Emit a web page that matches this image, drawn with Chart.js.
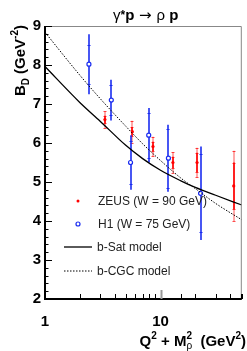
<!DOCTYPE html>
<html>
<head>
<meta charset="utf-8">
<script src="https://cdn.jsdelivr.net/npm/chart.js@4"></script>
<style>
  html, body { margin: 0; padding: 0; background: #fff; }
  #wrap { width: 247px; height: 351px; }
</style>
</head>
<body>
<div id="wrap"><canvas id="bdChart" width="247" height="351"></canvas></div>
<script>
// ZEUS (W = 90 GeV)
const zeusQ2 = [3.3, 5.7, 8.6, 12.8, 20.7, 43];
const zeusB = [6.6, 6.29, 5.91, 5.5, 5.5, 4.9];
const zeusStat = [0.1, 0.12, 0.12, 0.15, 0.25, 0.6];
const zeusTot = [0.21, 0.28, 0.25, 0.26, 0.38, 0.9];

// H1 (W = 75 GeV)
const h1Q2 = [2.4, 3.75, 5.5, 7.9, 11.7, 22.2];
const h1B = [8.02, 7.1, 5.5, 6.2, 5.61, 4.71];
const h1Stat = [0.5, 0.38, 0.55, 0.58, 0.76, 1.0];
const h1Tot = [0.77, 0.52, 0.7, 0.7, 0.86, 1.2];

// model curves
const modelQ2 = [1, 2, 3, 5, 7, 10, 15, 20, 30, 50.5];
const bSat = [7.96, 7.04, 6.56, 5.94, 5.6, 5.3, 5.03, 4.86, 4.66, 4.41];
const bCgc = [8.84, 7.74, 7.14, 6.43, 5.98, 5.55, 5.1, 4.83, 4.45, 4.03];

const legendLabels = ["ZEUS (W = 90 GeV)", "H1 (W = 75 GeV)", "b-Sat model", "b-CGC model"];
const yTicks = [2, 3, 4, 5, 6, 7, 8, 9];
const xLabelTicks = [1, 10];

const toPts = (xs, ys) => xs.map((x, i) => ({ x: x, y: ys[i] }));

const errorBars = {
    id: "errorBars",
    beforeDatasetsDraw(chart) {
        const ctx = chart.ctx;
        const xs = chart.scales.x, ys = chart.scales.y;
        ctx.save();
        // ZEUS: total in lighter red, stat in red
        zeusQ2.forEach((q, i) => {
            const px = Math.round(xs.getPixelForValue(q));
            const b = zeusB[i];
            ctx.lineWidth = 1.6;
            ctx.strokeStyle = "rgba(255,40,40,0.5)";
            ctx.beginPath();
            ctx.moveTo(px, ys.getPixelForValue(b + zeusTot[i]));
            ctx.lineTo(px, ys.getPixelForValue(b - zeusTot[i]));
            ctx.stroke();
            ctx.strokeStyle = "#f00";
            ctx.beginPath();
            ctx.moveTo(px, ys.getPixelForValue(b + zeusStat[i]));
            ctx.lineTo(px, ys.getPixelForValue(b - zeusStat[i]));
            ctx.stroke();
            ctx.lineWidth = 1;
            ctx.strokeStyle = "rgba(255,0,0,0.7)";
            [b + zeusStat[i], b - zeusStat[i], b + zeusTot[i], b - zeusTot[i]].forEach(v => {
                const py = Math.round(ys.getPixelForValue(v)) + 0.5;
                ctx.beginPath();
                ctx.moveTo(px - 1.5, py);
                ctx.lineTo(px + 1.5, py);
                ctx.stroke();
            });
        });
        // H1
        h1Q2.forEach((q, i) => {
            const px = Math.round(xs.getPixelForValue(q));
            const b = h1B[i];
            ctx.lineWidth = 1.6;
            ctx.strokeStyle = "#1a2cf0";
            ctx.beginPath();
            ctx.moveTo(px, ys.getPixelForValue(b + h1Tot[i]));
            ctx.lineTo(px, ys.getPixelForValue(b - h1Tot[i]));
            ctx.stroke();
            ctx.lineWidth = 1;
            [b + h1Stat[i], b - h1Stat[i]].forEach(v => {
                const py = Math.round(ys.getPixelForValue(v)) + 0.5;
                ctx.beginPath();
                ctx.moveTo(px - 1.5, py);
                ctx.lineTo(px + 1.5, py);
                ctx.stroke();
            });
        });
        ctx.restore();
    }
};

const frameAndText = {
    id: "frameAndText",
    afterDraw(chart) {
        const ctx = chart.ctx;
        const a = chart.chartArea;
        const xs = chart.scales.x, ys = chart.scales.y;
        ctx.save();
        // frame
        ctx.strokeStyle = "#888";
        ctx.lineWidth = 1;
        ctx.beginPath();
        ctx.moveTo(a.left, a.top + 0.5);
        ctx.lineTo(a.right - 0.5, a.top + 0.5);
        ctx.lineTo(a.right - 0.5, a.bottom);
        ctx.stroke();
        ctx.strokeStyle = "#000";
        ctx.lineWidth = 2;
        ctx.beginPath();
        ctx.moveTo(a.left, a.top);
        ctx.lineTo(a.left, a.bottom);
        ctx.lineTo(a.right, a.bottom);
        ctx.stroke();

        // y ticks (inside)
        ctx.lineWidth = 1;
        for (let v = 2; v <= 9.001; v += 0.2) {
            const py = Math.round(ys.getPixelForValue(v)) + 0.5;
            const major = Math.abs(v - Math.round(v)) < 0.01;
            ctx.beginPath();
            ctx.moveTo(a.left, py);
            ctx.lineTo(a.left + (major ? 7 : 3.5), py);
            ctx.stroke();
        }
        // x ticks (inside, log)
        xs.ticks.forEach(t => {
            const v = t.value;
            if (v <= 1 || v > 50.5) return;
            const px = Math.round(xs.getPixelForValue(v)) + 0.5;
            const major = v === 10;
            ctx.strokeStyle = major ? "#999" : "#000";
            ctx.lineWidth = major ? 2 : 1;
            ctx.beginPath();
            ctx.moveTo(px, a.bottom);
            ctx.lineTo(px, a.bottom - (major ? 9 : 5));
            ctx.stroke();
        });

        ctx.fillStyle = "#000";
        ctx.textBaseline = "alphabetic";
        // title: gamma* p -> rho p
        let x = 113;
        const ty = 20;
        const seg = (txt, font, dy) => {
            ctx.font = font;
            ctx.fillText(txt, x, ty + (dy || 0));
            x += ctx.measureText(txt).width;
        };
        ctx.textAlign = "left";
        seg("\u03b3", "15px 'Liberation Sans'");
        seg("*", "bold 12px 'Liberation Sans'", -1);
        seg("p", "bold 15px 'Liberation Sans'");
        seg(" \u2192 ", "15px 'DejaVu Sans'");
        seg("\u03c1", "15px 'Liberation Sans'");
        seg(" p", "bold 15px 'Liberation Sans'");

        // y title, rotated, right-aligned at top
        ctx.save();
        ctx.translate(25, 25);
        ctx.rotate(-Math.PI / 2);
        const parts = [
            ["B", "bold 15px 'Liberation Sans'", 0],
            ["D", "bold 10px 'Liberation Sans'", 4],
            [" (GeV", "bold 15px 'Liberation Sans'", 0],
            ["-2", "bold 10px 'Liberation Sans'", -7],
            [")", "bold 15px 'Liberation Sans'", 0]
        ];
        let w = 0;
        parts.forEach(p => { ctx.font = p[1]; w += ctx.measureText(p[0]).width; });
        let cx = -w;
        parts.forEach(p => {
            ctx.font = p[1];
            ctx.fillText(p[0], cx, p[2]);
            cx += ctx.measureText(p[0]).width;
        });
        ctx.restore();

        // x title, right-aligned
        const xparts = [
            ["Q", "bold 15px 'Liberation Sans'", 0],
            ["2", "bold 10px 'Liberation Sans'", -7],
            [" + M", "bold 15px 'Liberation Sans'", 0],
            ["2", "bold 10px 'Liberation Sans'", -7, true],
            ["\u03c1", "10px 'Liberation Sans'", 3],
            ["  (GeV", "bold 15px 'Liberation Sans'", 0],
            ["2", "bold 10px 'Liberation Sans'", -7],
            [")", "bold 15px 'Liberation Sans'", 0]
        ];
        w = 0;
        xparts.forEach(p => { ctx.font = p[1]; if (!p[3]) w += ctx.measureText(p[0]).width; });
        cx = 246 - w;
        xparts.forEach(p => {
            ctx.font = p[1];
            ctx.fillText(p[0], cx, 346 + p[2]);
            if (!p[3]) cx += ctx.measureText(p[0]).width;
        });

        // legend
        const lx = 78, tx = 98;
        const rows = [201, 224, 247, 271];
        ctx.font = "12px 'Liberation Sans'";
        ctx.fillStyle = "#222";
        ctx.textBaseline = "middle";
        legendLabels.forEach((lab, i) => ctx.fillText(lab, i < 2 ? tx : tx - 1, rows[i] + 1));
        ctx.fillStyle = "#f00";
        ctx.beginPath();
        ctx.arc(lx, rows[0], 1.5, 0, Math.PI * 2);
        ctx.fill();
        ctx.strokeStyle = "#1a2cf0";
        ctx.lineWidth = 1.2;
        ctx.beginPath();
        ctx.arc(lx, rows[1], 2, 0, Math.PI * 2);
        ctx.stroke();
        ctx.strokeStyle = "#000";
        ctx.lineWidth = 1.3;
        ctx.beginPath();
        ctx.moveTo(64, rows[2]);
        ctx.lineTo(92, rows[2]);
        ctx.stroke();
        ctx.lineWidth = 1;
        ctx.setLineDash([1.5, 1.5]);
        ctx.beginPath();
        ctx.moveTo(64, rows[3]);
        ctx.lineTo(92, rows[3]);
        ctx.stroke();
        ctx.restore();
    }
};

new Chart(document.getElementById("bdChart"), {
    type: "scatter",
    data: {
        datasets: [
            {
                label: legendLabels[2],
                type: "line",
                data: toPts(modelQ2, bSat),
                borderColor: "#000",
                borderWidth: 1.3,
                pointRadius: 0,
                cubicInterpolationMode: "monotone",
                fill: false
            },
            {
                label: legendLabels[3],
                type: "line",
                data: toPts(modelQ2, bCgc),
                borderColor: "#000",
                borderWidth: 1,
                borderDash: [1.5, 1.5],
                pointRadius: 0,
                cubicInterpolationMode: "monotone",
                fill: false
            },
            {
                label: legendLabels[0],
                data: toPts(zeusQ2, zeusB),
                pointRadius: 1.6,
                pointBackgroundColor: "#f00",
                pointBorderColor: "#f00",
                pointBorderWidth: 0
            },
            {
                label: legendLabels[1],
                data: toPts(h1Q2, h1B),
                pointRadius: 2,
                pointBackgroundColor: "#fff",
                pointBorderColor: "#1a2cf0",
                pointBorderWidth: 1.2
            }
        ]
    },
    options: {
        responsive: false,
        animation: false,
        events: [],
        layout: { padding: { top: 26, right: -3, left: 0, bottom: 0 } },
        plugins: { legend: { display: false }, tooltip: { enabled: false }, title: { display: false } },
        scales: {
            x: {
                type: "logarithmic",
                min: 1,
                max: 50.5,
                grid: { display: false, drawTicks: false },
                border: { display: false },
                afterFit: s => { s.height = 52; s.paddingLeft = 0; s.paddingRight = 0; },
                ticks: {
                    autoSkip: false,
                    maxRotation: 0,
                    padding: 14,
                    color: "#000",
                    font: { family: "'Liberation Sans'", size: 15, weight: "bold" },
                    callback: v => (xLabelTicks.includes(v) ? String(v) : "")
                }
            },
            y: {
                min: 2,
                max: 9,
                grid: { display: false, drawTicks: false },
                border: { display: false },
                afterFit: s => { s.width = 45; s.paddingTop = 0; s.paddingBottom = 0; },
                afterBuildTicks: s => { s.ticks = yTicks.map(v => ({ value: v })); },
                ticks: {
                    padding: 4,
                    color: "#000",
                    font: { family: "'Liberation Sans'", size: 15, weight: "bold" }
                }
            }
        }
    },
    plugins: [errorBars, frameAndText]
});
</script>
</body>
</html>
